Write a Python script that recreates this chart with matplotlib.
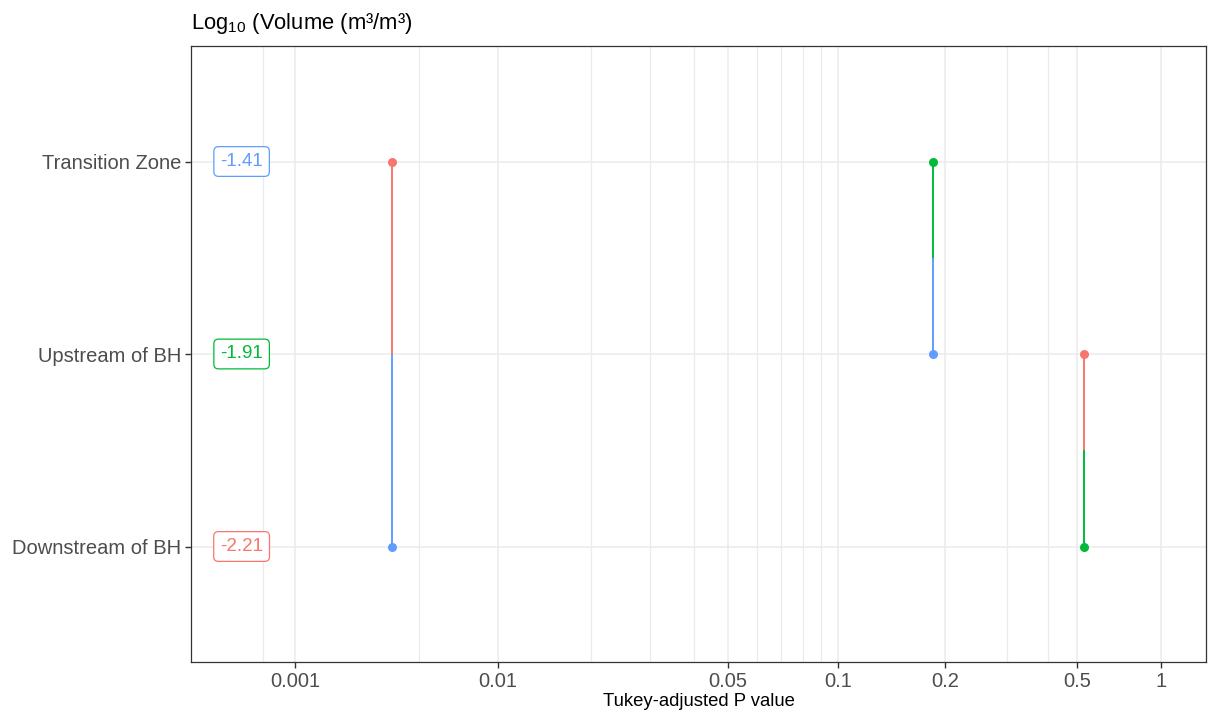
import numpy as np
import matplotlib
matplotlib.use("Agg")
import matplotlib.pyplot as plt

plt.rcParams["font.family"] = ["Liberation Sans", "DejaVu Sans"]
plt.rcParams["mathtext.fontset"] = "custom"
plt.rcParams["mathtext.rm"] = "Liberation Sans"

# -----------------------------------------------------------------------
# Data
# -----------------------------------------------------------------------
groups = ["Downstream of BH", "Upstream of BH", "Transition Zone"]
group_means = [-2.21, -1.91, -1.41]
group_colors = ["#F8766D", "#00BA38", "#619CFF"]

# pairwise Tukey comparisons
comp_first = ["Transition Zone", "Transition Zone", "Upstream of BH"]
comp_second = ["Downstream of BH", "Upstream of BH", "Downstream of BH"]
comp_p = [0.0035, 0.185, 0.53]

major_breaks = [0.001, 0.01, 0.05, 0.1, 0.2, 0.5, 1]
major_labels = ["0.001", "0.01", "0.05", "0.1", "0.2", "0.5", "1"]
minor_breaks = [0.0005, 0.005, 0.02, 0.03, 0.04, 0.06, 0.07, 0.08, 0.09, 0.3, 0.4]

# -----------------------------------------------------------------------
# Stretched log axis: the original p axis is not a plain log scale, so
# log10(p) is warped through these anchors (arbitrary units)
# -----------------------------------------------------------------------
warp_p = [1e-12, 1e-4, 5e-4, 1e-3, 5e-3, 1e-2, 2e-2, 3e-2, 4e-2, 5e-2, 6e-2,
          7e-2, 8e-2, 9e-2, 0.1, 0.2, 0.3, 0.4, 0.5, 1, 1.5, 1000]
warp_pos = [-609, 191, 263, 295, 419, 498, 591, 650, 694, 728, 757,
            781, 803, 821, 838, 945, 1007, 1048, 1077, 1161, 1206, 1967]
warp_u = np.log10(warp_p)


def fwd(p):
    u = np.log10(np.clip(np.asarray(p, dtype=float), 1e-12, None))
    return np.interp(u, warp_u, warp_pos)


def inv(x):
    return 10 ** np.interp(np.asarray(x, dtype=float), warp_pos, warp_u)


# -----------------------------------------------------------------------
# Plot
# -----------------------------------------------------------------------
fig = plt.figure(figsize=(12.11, 7.15), dpi=100)
ax = fig.add_axes([191 / 1211, 1 - 662 / 715, (1206 - 191) / 1211, (662 - 46) / 715])
ax.set_xscale("function", functions=(fwd, inv))

ypos = {g: i + 1 for i, g in enumerate(groups)}
gcol = dict(zip(groups, group_colors))

for a, b, p in zip(comp_first, comp_second, comp_p):
    ya, yb = ypos[a], ypos[b]
    mid = (ya + yb) / 2
    ax.plot([p, p], [ya, mid], color=gcol[b], lw=1.4, solid_capstyle="butt", zorder=3)
    ax.plot([p, p], [mid, yb], color=gcol[a], lw=1.4, solid_capstyle="butt", zorder=3)
    ax.plot(p, ya, "o", color=gcol[b], ms=6.5, mec="none", zorder=4)
    ax.plot(p, yb, "o", color=gcol[a], ms=6.5, mec="none", zorder=4)

for g, m, c in zip(groups, group_means, group_colors):
    ax.text(0.00031, ypos[g], f"{m:.2f}", color=c, fontsize=13.5,
            ha="center", va="center", zorder=5,
            bbox=dict(boxstyle="round,pad=0.34,rounding_size=0.25",
                      fc="white", ec=c, lw=0.9))

ax.set_xlim(1e-4, 1.5)
ax.set_ylim(0.4, 3.6)

ax.set_xticks(major_breaks)
ax.set_xticklabels(major_labels)
ax.set_xticks(minor_breaks, minor=True)
ax.set_yticks([ypos[g] for g in groups])
ax.set_yticklabels(groups)

ax.grid(which="major", color="#EBEBEB", lw=1.1, zorder=0)
ax.grid(which="minor", axis="x", color="#EBEBEB", lw=0.9, zorder=0)
ax.set_axisbelow(True)

ax.tick_params(which="major", length=4, width=1.0, color="#333333",
               labelcolor="#4D4D4D", labelsize=14.5, pad=3)
ax.tick_params(which="minor", length=0)
for s in ax.spines.values():
    s.set_color("#333333")
    s.set_linewidth(0.9)

ax.set_xlabel("Tukey-adjusted P value", fontsize=13.3, color="black", labelpad=2)
fig.text(191 / 1211, 1 - 24 / 715, r"Log$_{\mathrm{10}}$ (Volume (m³/m³)",
         fontsize=15.8, ha="left", va="center", color="black")

fig.savefig("out.png", dpi=100)
